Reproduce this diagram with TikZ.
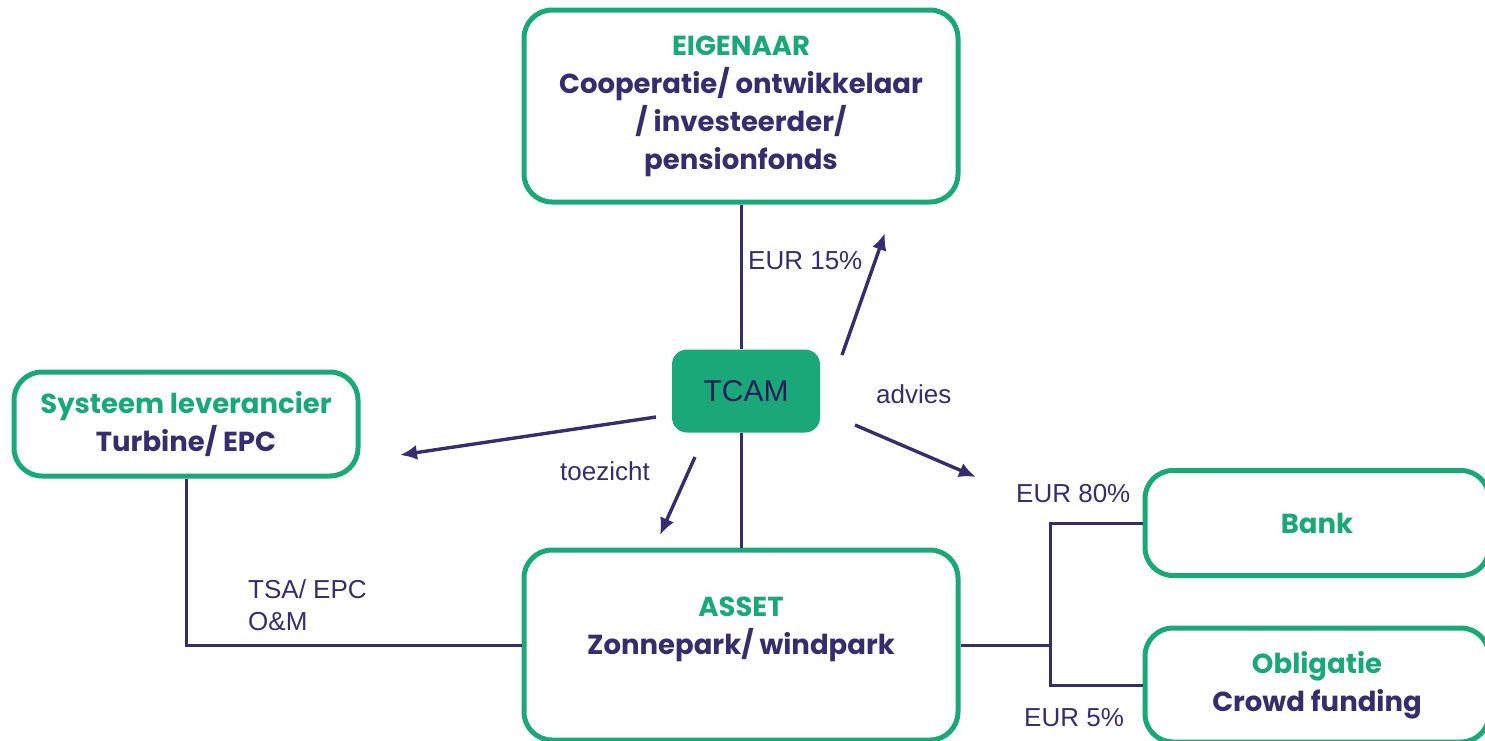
\documentclass[tikz,border=0pt]{standalone}
\usepackage{fontspec}
\setmainfont{Liberation Sans}
\newfontfamily\headfont{Poppins}
\usetikzlibrary{arrows.meta}
\definecolor{mint}{RGB}{26,168,120}
\definecolor{ink}{RGB}{55,45,110}
\definecolor{deepink}{RGB}{40,28,90}

\begin{document}
\begin{tikzpicture}[x=1pt, y=-1pt,
    box/.style={draw=mint, line width=5pt, rounded corners=28pt, fill=white,
      align=center, inner sep=0pt, text=ink,
      font=\headfont\bfseries\fontsize{27.5}{38}\selectfont},
    link/.style={draw=ink, line width=3pt},
    pointer/.style={draw=ink, line width=3.4pt, -{Latex[length=17pt,width=15pt]}},
    lbl/.style={text=ink, inner sep=0pt, anchor=west, font=\fontsize{26}{32}\selectfont}]
    \clip (0,0) rectangle (1485,740);

    % parties
    \node[box, minimum width=434pt, minimum height=192pt] (owner) at (741,106)
      {\textcolor{mint}{EIGENAAR}\\Cooperatie/ ontwikkelaar\\/ investeerder/\\pensionfonds};
    \node[box, minimum width=344pt, minimum height=104pt] (supplier) at (186,424)
      {\textcolor{mint}{Systeem leverancier}\\Turbine/ EPC};
    \node[box, minimum width=434pt, minimum height=190pt] (asset) at (741,645)
      {\textcolor{mint}{ASSET}\\Zonnepark/ windpark\\ \mbox{}};
    \node[box, minimum width=344pt, minimum height=105pt] (bank) at (1317,523)
      {\textcolor{mint}{Bank}};
    \node[box, minimum width=344pt, minimum height=114pt] (bond) at (1317,685)
      {\textcolor{mint}{Obligatie}\\Crowd funding};

    % manager in the middle
    \node[fill=mint, rounded corners=15pt, minimum width=148pt, minimum height=83pt,
      text=deepink, font=\fontsize{30}{36}\selectfont] (tcam) at (746,391) {TCAM};

    % lines between parties
    \draw[link] (owner.south) -- (owner.south |- tcam.north);
    \draw[link] (asset.north |- tcam.south) -- (asset.north);
    \draw[link] (supplier.south) |- (asset.west);
    \coordinate (split) at (1050,645);
    \draw[link] (asset.east) -- (split) |- (bank.west);
    \draw[link] (split) |- (bond.west);

    % advice and supervision arrows
    \coordinate (up1) at (842,355);   \coordinate (up2) at (885,233);
    \coordinate (left1) at (656,417); \coordinate (left2) at (400,455);
    \coordinate (down1) at (695,457); \coordinate (down2) at (660,535);
    \coordinate (right1) at (855,425); \coordinate (right2) at (976,477);
    \draw[pointer] (up1) -- (up2);
    \draw[pointer] (left1) -- (left2);
    \draw[pointer] (down1) -- (down2);
    \draw[pointer] (right1) -- (right2);

    % labels
    \node[lbl] (eur15) at (748,261) {EUR 15\%};
    \node[lbl] (advies) at (876,394) {advies};
    \node[lbl] (toezicht) at (560,471) {toezicht};
    \node[lbl, align=left] (contract) at (248,605) {TSA/ EPC\\O\&M};
    \node[lbl] (eur80) at (1016,494) {EUR 80\%};
    \node[lbl] (eur5) at (1024,718) {EUR 5\%};
\end{tikzpicture}
\end{document}
